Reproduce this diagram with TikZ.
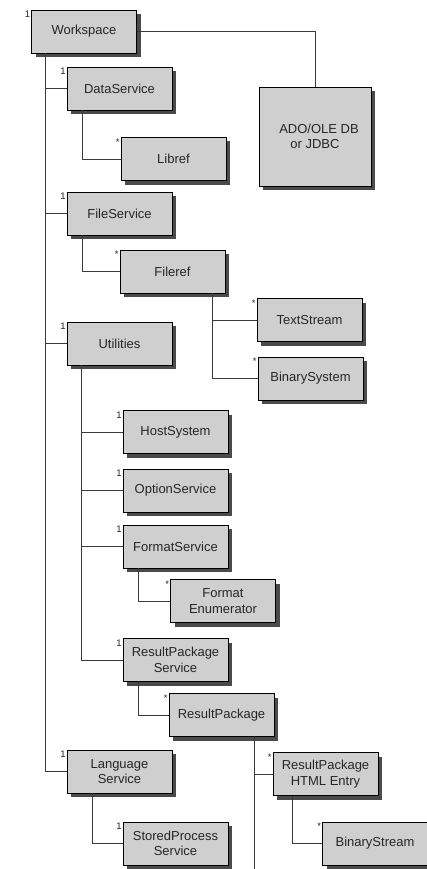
\documentclass[tikz,border=0pt]{standalone}
\usepackage{fontspec}
\setmainfont{Liberation Sans}
\usetikzlibrary{shadows}
\definecolor{kastengrau}{HTML}{CFCFCF}
\definecolor{schatten}{HTML}{4A4A4A}
\definecolor{linie}{HTML}{3A3A3A}

\begin{document}
\begin{tikzpicture}[x=1pt, y=-1pt,
    every node/.style={font=\fontsize{13}{15.5}\selectfont, text=black!85},
    kasten/.style={draw=black, fill=kastengrau, minimum width=105pt,
      minimum height=43pt, inner sep=1pt, align=center,
      drop shadow={shadow xshift=4pt, shadow yshift=-4pt, fill=schatten, opacity=1}},
    mult/.style={font=\fontsize{9.5}{10}\selectfont, anchor=north east, inner sep=1pt},
    verb/.style={draw=linie, line width=0.7pt}]
      \useasboundingbox[fill=white] (0,0) rectangle (427,869);
      % Workspace und Datenquelle
      \node[kasten, label={[mult]north west:1}] (workspace) at (84,31.5) {Workspace};
      \node[kasten, minimum width=112pt, minimum height=99pt] (adodb) at (315,136.5) {\hspace{8pt}ADO/OLE DB\\or JDBC};
      % Services
      \node[kasten, label={[mult]north west:1}] (dataservice) at (119.5,88.5) {DataService};
      \node[kasten, label={[mult]north west:*}] (libref) at (173.5,159) {Libref};
      \node[kasten, label={[mult]north west:1}] (fileservice) at (119.5,213.5) {FileService};
      \node[kasten, label={[mult]north west:*}] (fileref) at (172.5,271.5) {Fileref};
      \node[kasten, label={[mult]north west:*}] (textstream) at (309.5,320) {TextStream};
      \node[kasten, label={[mult]north west:*}] (binsys) at (310.5,378.5) {BinarySystem};
      \node[kasten, label={[mult]north west:1}] (utilities) at (119.5,343.5) {Utilities};
      % Utilities
      \node[kasten, label={[mult]north west:1}] (hostsys) at (175.5,432) {HostSystem};
      \node[kasten, label={[mult]north west:1}] (optsvc) at (175.5,490.5) {OptionService};
      \node[kasten, label={[mult]north west:1}] (fmtsvc) at (175.5,546.5) {FormatService};
      \node[kasten, label={[mult]north west:*}] (fmtenum) at (223,601) {Format\\Enumerator};
      \node[kasten, label={[mult]north west:1}] (rpsvc) at (175.5,660) {ResultPackage\\Service};
      \node[kasten, label={[mult]north west:*}] (rpack) at (221.5,715) {ResultPackage};
      \node[kasten, label={[mult]north west:*}] (htmlentry) at (325.5,774) {ResultPackage\\HTML Entry};
      \node[kasten, label={[mult]north west:*}] (binstream) at (375,843.5) {BinaryStream};
      % Language
      \node[kasten, label={[mult]north west:1}] (langsvc) at (119.5,771.5) {Language\\Service};
      \node[kasten, label={[mult]north west:1}] (storedproc) at (175.5,843.5) {StoredProcess\\Service};
      % Verbindungen
      \coordinate (wsT) at ([xshift=14pt]workspace.south west);
      \coordinate (dsT) at ([xshift=16pt]dataservice.south west);
      \coordinate (fsT) at ([xshift=16pt]fileservice.south west);
      \coordinate (frT) at ([xshift=93pt]fileref.south west);
      \coordinate (utT) at ([xshift=15pt]utilities.south west);
      \coordinate (fmT) at ([xshift=16pt]fmtsvc.south west);
      \coordinate (rsT) at ([xshift=16pt]rpsvc.south west);
      \coordinate (rpT) at ([xshift=86pt]rpack.south west);
      \coordinate (rpEnd) at (rpT |- 0,869);
      \coordinate (heT) at ([xshift=20pt]htmlentry.south west);
      \coordinate (lsT) at ([xshift=26pt]langsvc.south west);
      \draw[verb] (workspace.east) -| (adodb.north);
      \draw[verb] (wsT) |- (langsvc.west);
      \draw[verb] (wsT |- dataservice.west) -- (dataservice.west);
      \draw[verb] (wsT |- fileservice.west) -- (fileservice.west);
      \draw[verb] (wsT |- utilities.west) -- (utilities.west);
      \draw[verb] (dsT) |- (libref.west);
      \draw[verb] (fsT) |- (fileref.west);
      \draw[verb] (frT) |- (binsys.west);
      \draw[verb] (frT |- textstream.west) -- (textstream.west);
      \draw[verb] (utT) |- (rpsvc.west);
      \draw[verb] (utT |- hostsys.west) -- (hostsys.west);
      \draw[verb] (utT |- optsvc.west) -- (optsvc.west);
      \draw[verb] (utT |- fmtsvc.west) -- (fmtsvc.west);
      \draw[verb] (fmT) |- (fmtenum.west);
      \draw[verb] (rsT) |- (rpack.west);
      \draw[verb] (rpT) -- (rpEnd);
      \draw[verb] (rpT |- htmlentry.west) -- (htmlentry.west);
      \draw[verb] (heT) |- (binstream.west);
      \draw[verb] (lsT) |- (storedproc.west);
    \end{tikzpicture}
\end{document}
